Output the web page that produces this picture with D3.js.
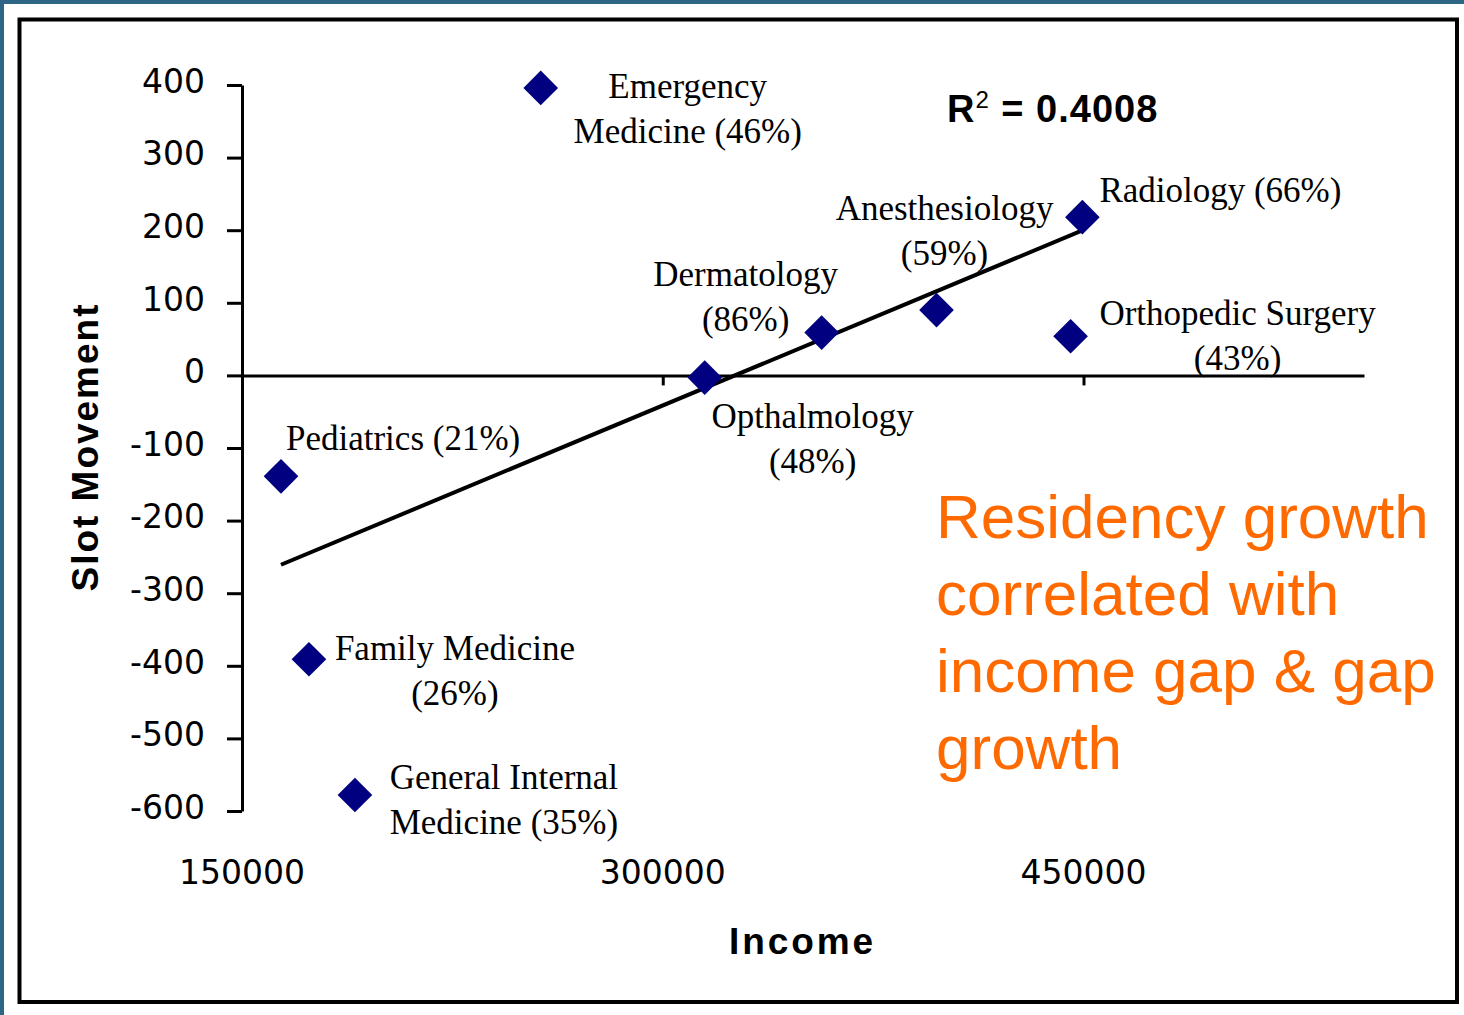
<!DOCTYPE html>
<html>
<head>
<meta charset="utf-8">
<script src="https://cdn.jsdelivr.net/npm/d3@7"></script>
<style>
    body { margin: 0; background: #fff; }
    svg { display: block; }
</style>
</head>
<body>
<div id="chart"></div>
<script>
(function () {
    "use strict";

    // values
    const specialties = ["Emergency Medicine", "Radiology", "Orthopedic Surgery", "Anesthesiology",
        "Dermatology", "Opthalmology", "Pediatrics", "Family Medicine", "General Internal Medicine"];
    const income = [256500, 449600, 445400, 397600, 356650, 314960, 163900, 173870, 190260];
    const slotMovement = [396, 218, 54, 90, 59, -3, -139, -391, -578];
    const gapGrowth = ["46%", "66%", "43%", "59%", "86%", "48%", "21%", "26%", "35%"];
    const labelLines = [
        ["Emergency", "Medicine (46%)"],
        ["Radiology (66%)"],
        ["Orthopedic Surgery", "(43%)"],
        ["Anesthesiology", "(59%)"],
        ["Dermatology", "(86%)"],
        ["Opthalmology", "(48%)"],
        ["Pediatrics (21%)"],
        ["Family Medicine", "(26%)"],
        ["General Internal", "Medicine (35%)"]
    ];
    const xTicks = [150000, 300000, 450000];
    const yTicks = [400, 300, 200, 100, 0, -100, -200, -300, -400, -500, -600];
    const rSquared = "0.4008";
    const note = ["Residency growth", "correlated with", "income gap & gap", "growth"];

    // where each label sits relative to its marker
    const labelLayout = [
        { dx: 147, dy: 10, anchor: "middle" },
        { dx: 17, dy: -15, anchor: "start" },
        { dx: 167, dy: -11, anchor: "middle" },
        { dx: 8, dy: -90, anchor: "middle" },
        { dx: -76, dy: -47, anchor: "middle" },
        { dx: 108, dy: 50, anchor: "middle" },
        { dx: 5, dy: -26, anchor: "start" },
        { dx: 146, dy: 1, anchor: "middle" },
        { dx: 149, dy: -6, anchor: "middle" }
    ];

    const W = 1464, H = 1015;
    const serif = "'Liberation Serif', 'Times New Roman', serif";
    const sans = "'DejaVu Sans', Verdana, sans-serif";
    const bold = "'Liberation Sans', Arial, sans-serif";

    let svg = d3.select("#chart").append("svg").attr("width", W).attr("height", H);

    svg.append("rect").attr("width", W).attr("height", H).attr("fill", "#fff");
    svg.append("rect").attr("width", W).attr("height", 4).attr("fill", "#2d6585");
    svg.append("rect").attr("width", 4).attr("height", H).attr("fill", "#2d6585");
    svg.append("rect")
        .attr("x", 19.5).attr("y", 19.5).attr("width", 1437.5).attr("height", 982.5)
        .attr("fill", "none").attr("stroke", "#000").attr("stroke-width", 4);

    let x = d3.scaleLinear().domain([150000, 550000]).range([242, 1364]);
    let y = d3.scaleLinear().domain([-600, 400]).range([811, 85]);

    // y axis
    let yAxis = svg.append("g")
        .attr("transform", `translate(${x(150000)},0)`)
        .call(d3.axisLeft(y).tickValues(yTicks).tickSize(15).tickSizeOuter(0).tickPadding(22)
            .tickFormat((d) => String(d)));
    yAxis.selectAll("path, line").attr("stroke", "#000").attr("stroke-width", 3);
    yAxis.selectAll("text")
        .attr("font-family", sans).attr("font-size", 33).attr("fill", "#000")
        .attr("dy", "0.22em");

    // x axis through zero
    let xAxis = svg.append("g")
        .attr("transform", `translate(0,${y(0)})`)
        .call(d3.axisBottom(x).tickValues(xTicks).tickSize(10).tickSizeOuter(0).tickFormat(""));
    xAxis.selectAll("path, line").attr("stroke", "#000").attr("stroke-width", 3);

    svg.append("g").selectAll("text")
        .data(xTicks)
        .enter()
        .append("text")
        .attr("x", (d) => x(d))
        .attr("y", 884)
        .attr("text-anchor", "middle")
        .attr("font-family", sans).attr("font-size", 33)
        .text((d) => d);

    // axis titles
    svg.append("text")
        .attr("transform", "translate(98,448) rotate(-90)")
        .attr("text-anchor", "middle")
        .attr("font-family", bold).attr("font-weight", "bold").attr("font-size", 37)
        .attr("textLength", 287).attr("lengthAdjust", "spacing")
        .text("Slot Movement");
    svg.append("text")
        .attr("x", 801).attr("y", 954)
        .attr("text-anchor", "middle")
        .attr("font-family", bold).attr("font-weight", "bold").attr("font-size", 37)
        .attr("textLength", 144).attr("lengthAdjust", "spacing")
        .text("Income");

    // least squares trend line
    let mx = d3.mean(income), my = d3.mean(slotMovement);
    let sxy = d3.sum(income, (d, i) => (d - mx) * (slotMovement[i] - my));
    let sxx = d3.sum(income, (d) => (d - mx) * (d - mx));
    let slope = sxy / sxx, icpt = my - slope * mx;
    let ends = d3.extent(income);
    svg.append("path")
        .datum(ends)
        .attr("d", d3.line().x((d) => x(d)).y((d) => y(icpt + slope * d)))
        .attr("stroke", "#000").attr("stroke-width", 4).attr("fill", "none");

    // markers
    let pts = specialties.map((s, i) => ({ name: s, x: income[i], y: slotMovement[i], gap: gapGrowth[i], lines: labelLines[i], lay: labelLayout[i] }));
    svg.append("g").selectAll("path")
        .data(pts)
        .enter()
        .append("path")
        .attr("d", d3.symbol(d3.symbolSquare, 600))
        .attr("transform", (d) => `translate(${x(d.x)},${y(d.y)}) rotate(45)`)
        .attr("fill", "#000080");

    // labels
    let labels = svg.append("g").selectAll("text")
        .data(pts)
        .enter()
        .append("text")
        .attr("font-family", serif).attr("font-size", 35).attr("fill", "#000")
        .attr("text-anchor", (d) => d.lay.anchor)
        .attr("x", (d) => x(d.x) + d.lay.dx)
        .attr("y", (d) => y(d.y) + d.lay.dy);
    labels.selectAll("tspan")
        .data((d) => d.lines.map((l) => ({ text: l, px: x(d.x) + d.lay.dx })))
        .enter()
        .append("tspan")
        .attr("x", (d) => d.px)
        .attr("dy", (d, i) => (i === 0 ? 0 : 45))
        .text((d) => d.text);

    // R squared
    let r2 = svg.append("text")
        .attr("x", 947).attr("y", 122)
        .attr("font-family", bold).attr("font-weight", "bold").attr("font-size", 38)
        .attr("letter-spacing", 1);
    r2.append("tspan").text("R");
    r2.append("tspan").attr("dy", -14).attr("font-size", 24).attr("font-weight", "normal").text("2");
    r2.append("tspan").attr("dy", 14).text(" = " + rSquared);

    // orange note
    svg.append("text")
        .attr("font-family", bold).attr("font-size", 62).attr("fill", "#ff6a00")
        .selectAll("tspan")
        .data(note)
        .enter()
        .append("tspan")
        .attr("x", 936)
        .attr("y", (d, i) => 538 + i * 77)
        .text((d) => d);
})();
</script>
</body>
</html>
